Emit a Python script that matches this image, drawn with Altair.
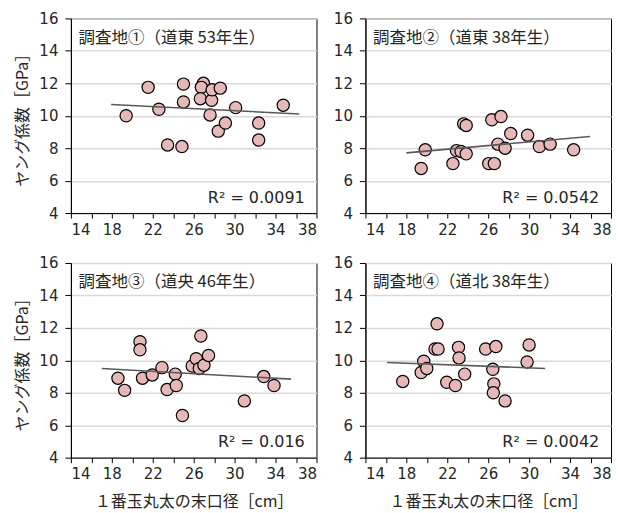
import altair as alt
import pandas as pd

# ---------------- data ----------------
x_domain = [14, 38]
y_domain = [4, 16]
x_tick_values = [14, 16, 18, 20, 22, 24, 26, 28, 30, 32, 34, 36, 38]
y_tick_values = [4, 6, 8, 10, 12, 14, 16]

panel_titles = ["調査地①（道東 53年生）", "調査地②（道東 38年生）",
                "調査地③（道央 46年生）", "調査地④（道北 38年生）"]
r2_labels = ["R² = 0.0091", "R² = 0.0542", "R² = 0.016", "R² = 0.0042"]

x_title = "１番玉丸太の末口径［cm］"
y_title = "ヤング係数［GPa］"

p1_x = [19.4, 21.55, 22.6, 23.45, 24.85, 25.0, 25.0, 26.95, 26.75, 26.65,
        27.75, 27.8, 28.6, 27.6, 28.4, 29.1, 30.1, 32.35, 32.35, 34.75]
p1_y = [10.0, 11.75, 10.4, 8.2, 8.1, 11.95, 10.85, 12.0, 11.75, 11.05,
        10.95, 11.6, 11.7, 10.05, 9.05, 9.55, 10.5, 9.55, 8.5, 10.65]

p2_x = [19.45, 19.85, 22.55, 22.9, 23.35, 23.85, 23.6, 23.85, 26.05, 26.6,
        26.35, 27.25, 26.95, 27.65, 28.2, 29.85, 31.0, 32.05, 34.35]
p2_y = [6.75, 7.9, 7.05, 7.85, 7.8, 7.65, 9.5, 9.4, 7.05, 7.05,
        9.75, 9.95, 8.25, 8.0, 8.9, 8.8, 8.1, 8.25, 7.9]

p3_x = [18.6, 19.25, 20.75, 20.75, 21.0, 21.95, 22.9, 23.4, 24.2, 24.3,
        24.9, 25.85, 26.25, 26.7, 26.55, 27.0, 27.45, 30.95, 32.85, 33.85]
p3_y = [8.9, 8.15, 11.15, 10.65, 8.9, 9.1, 9.55, 8.2, 9.15, 8.45,
        6.6, 9.65, 10.1, 11.5, 9.5, 9.7, 10.3, 7.5, 9.0, 8.45]

p4_x = [17.65, 19.45, 19.7, 20.0, 21.0, 20.8, 21.1, 21.95, 22.8, 23.1,
        23.15, 23.7, 25.75, 26.75, 26.45, 26.55, 26.5, 27.65, 29.8, 30.0]
p4_y = [8.7, 9.25, 9.95, 9.5, 12.25, 10.7, 10.7, 8.65, 8.45, 10.8,
        10.15, 9.15, 10.7, 10.85, 9.45, 8.55, 8.0, 7.5, 9.9, 10.95]

# trend line end points
trend_x0 = [17.93, 18.0, 17.02, 16.11]
trend_x1 = [36.31, 35.95, 35.5, 31.56]
trend_y0 = [10.69, 7.71, 9.5, 9.87]
trend_y1 = [10.11, 8.72, 8.84, 9.5]

# annotation anchor positions (data units)
title_x = 14.75
title_y = 14.8
r2_x = 36.85
r2_y = 4.95

# ---------------- styling ----------------
NUM_FONT = "DejaVu Sans"
JP_FONT = "Noto Sans CJK JP"
TEXT_COLOR = "#262626"
PANEL_W = 246
PANEL_H = 195


def make_axes(show_x_title, show_y_title):
    x_kw = dict(values=x_tick_values,
                labelExpr="(datum.value - 14) % 4 == 0 ? datum.label : ''",
                grid=False, tickSize=5, labelPadding=4,
                labelFont=NUM_FONT, labelFontSize=15, labelColor=TEXT_COLOR,
                domainColor="black", tickColor="black",
                titleFont=JP_FONT, titleFontSize=16, titleFontWeight="normal",
                titleColor=TEXT_COLOR, titlePadding=12)
    y_kw = dict(values=y_tick_values, grid=True, gridColor="#D9D9D9",
                gridWidth=1.5, tickSize=6, labelPadding=7,
                labelFont=NUM_FONT, labelFontSize=15, labelColor=TEXT_COLOR,
                domainColor="black", tickColor="black",
                titleFont=JP_FONT, titleFontSize=16, titleFontWeight="normal",
                titleColor=TEXT_COLOR, titlePadding=8)
    xa = alt.Axis(title=x_title, **x_kw) if show_x_title else alt.Axis(title=None, **x_kw)
    ya = alt.Axis(title=y_title, **y_kw) if show_y_title else alt.Axis(title=None, **y_kw)
    return xa, ya


def panel(i, xs, ys, show_x_title, show_y_title):
    pts = pd.DataFrame({"x": xs, "y": ys})
    trend = pd.DataFrame({"x": [trend_x0[i], trend_x1[i]],
                          "y": [trend_y0[i], trend_y1[i]]})
    ann_t = pd.DataFrame({"x": [title_x], "y": [title_y], "t": [panel_titles[i]]})
    ann_r = pd.DataFrame({"x": [r2_x], "y": [r2_y], "t": [r2_labels[i]]})

    xs_ = alt.Scale(domain=x_domain, nice=False, zero=False)
    ys_ = alt.Scale(domain=y_domain, nice=False, zero=False)
    xa, ya = make_axes(show_x_title, show_y_title)

    def X():
        return alt.X("x:Q", scale=xs_, axis=xa)

    def Y():
        return alt.Y("y:Q", scale=ys_, axis=ya)

    points = alt.Chart(pts).mark_point(
        shape="circle", filled=True, fill="#E6B8B7", stroke="black",
        strokeWidth=1.2, size=150, opacity=1
    ).encode(x=X(), y=Y())

    line = alt.Chart(trend).mark_line(color="#595959", strokeWidth=1.6).encode(
        x=X(), y=Y())

    ttl = alt.Chart(ann_t).mark_text(
        align="left", baseline="middle", font=JP_FONT, fontSize=16.5,
        color=TEXT_COLOR
    ).encode(x=X(), y=Y(), text="t:N")

    r2 = alt.Chart(ann_r).mark_text(
        align="right", baseline="middle", font=NUM_FONT, fontSize=16,
        color=TEXT_COLOR
    ).encode(x=X(), y=Y(), text="t:N")

    return alt.layer(points, line, ttl, r2).properties(width=PANEL_W, height=PANEL_H)


c1 = panel(0, p1_x, p1_y, False, True)
c2 = panel(1, p2_x, p2_y, False, False)
c3 = panel(2, p3_x, p3_y, True, True)
c4 = panel(3, p4_x, p4_y, True, False)

row1 = alt.hconcat(c1, c2, spacing=15)
row2 = alt.hconcat(c3, c4, spacing=15)

chart = alt.vconcat(row1, row2, spacing=17).properties(
    padding={"left": 6, "top": 2, "right": 0, "bottom": 0},
    background="white",
).configure_view(
    stroke="black", strokeWidth=1
)

chart.save("out.html", embed_options={"renderer": "svg", "actions": False})
